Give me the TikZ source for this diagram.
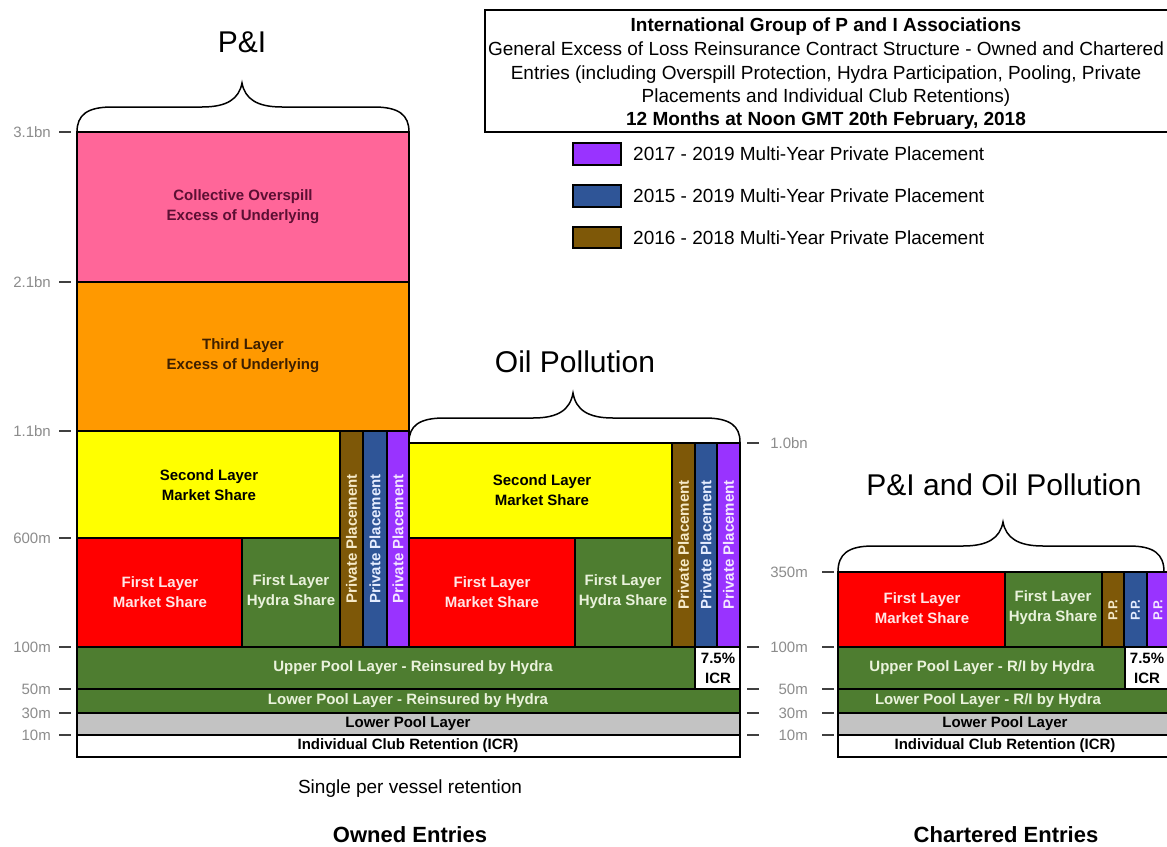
\documentclass[tikz,border=0pt]{standalone}
\usepackage{fontspec}
\setmainfont{Liberation Sans}
\definecolor{cpink}{HTML}{FF6699}
\definecolor{corange}{HTML}{FF9900}
\definecolor{cyellow}{HTML}{FFFF00}
\definecolor{cred}{HTML}{FF0000}
\definecolor{cgreen}{HTML}{4E7D30}
\definecolor{cbrown}{HTML}{7E5808}
\definecolor{cblue}{HTML}{2F5597}
\definecolor{cpurple}{HTML}{9933FF}
\definecolor{cgrey}{HTML}{C3C3C3}
\definecolor{axgray}{HTML}{8C8C8C}
\definecolor{tickgray}{HTML}{404040}
\definecolor{tpink}{HTML}{5C0F33}
\definecolor{torange}{HTML}{3D1F00}
\definecolor{tred}{HTML}{FFE6E6}
\definecolor{tgreen}{HTML}{EAF2DC}
\definecolor{tbrown}{HTML}{F5E9C8}
\definecolor{tblue}{HTML}{E5ECFF}
\definecolor{tpurple}{HTML}{F3E5FF}
\newcommand\drawbrace[6]{%
  \draw[bracestyle] (#1,#4) .. controls (#1,{#5+8}) and ({#1+10},#5) .. ({#1+35},#5)
    -- ({#3-40},#5) .. controls ({#3-15},#5) and ({#3-3},{#5-8}) .. (#3,#6)
    .. controls ({#3+3},{#5-8}) and ({#3+15},#5) .. ({#3+40},#5)
    -- ({#2-35},#5) .. controls ({#2-10},#5) and (#2,{#5+8}) .. (#2,#4);}
\tikzset{
  layer/.style={draw=black, line width=1.3pt},
  lbl/.style={font=\fontsize{15}{20}\selectfont\bfseries, align=center, inner sep=0pt},
  pplbl/.style={font=\fontsize{15}{15}\selectfont\bfseries, rotate=90, inner sep=0pt},
  pslbl/.style={font=\fontsize{13}{13}\selectfont\bfseries, rotate=90, inner sep=0pt},
  axlbl/.style={font=\fontsize{15}{15}\selectfont, text=axgray, anchor=east, inner sep=0pt},
  tickmark/.style={draw=tickgray, line width=2pt},
  bracestyle/.style={draw=black, line width=1.5pt},
  bigtitle/.style={font=\fontsize{30}{30}\selectfont, inner sep=0pt},
  ttl/.style={font=\fontsize{19}{19}\selectfont, anchor=base, inner sep=0pt},
  legtxt/.style={font=\fontsize{19}{19}\selectfont, anchor=west, inner sep=0pt},
  swatch/.style={draw=black, line width=1.3pt},
}
\begin{document}
\begin{tikzpicture}[x=1pt,y=-1pt]
\useasboundingbox (0,0) rectangle (1167,846);
\fill[white] (0,0) rectangle (1167,846);

% ---------- Title box ----------
\draw[line width=1.5pt] (485,10) rectangle (1180,132);
\node[ttl, font=\fontsize{19}{19}\selectfont\bfseries] (t1) at (826,31) {International Group of P and I Associations};
\node[ttl] (t2) at (826,55) {General Excess of Loss Reinsurance Contract Structure - Owned and Chartered};
\node[ttl] (t3) at (826,79) {Entries (including Overspill Protection, Hydra Participation, Pooling, Private};
\node[ttl] (t4) at (826,102) {Placements and Individual Club Retentions)};
\node[ttl, font=\fontsize{19}{19}\selectfont\bfseries] (t5) at (826,125) {12 Months at Noon GMT 20th February, 2018};

% ---------- Legend ----------
\draw[swatch, fill=cpurple] (573,143) rectangle (621,165);
\node[legtxt] (lg1) at (633,154) {2017 - 2019 Multi-Year Private Placement};
\draw[swatch, fill=cblue] (573,185) rectangle (621,207);
\node[legtxt] (lg2) at (633,196) {2015 - 2019 Multi-Year Private Placement};
\draw[swatch, fill=cbrown] (573,227) rectangle (621,248);
\node[legtxt] (lg3) at (633,238) {2016 - 2018 Multi-Year Private Placement};

% ---------- Braces and headings ----------
\drawbrace{77}{409}{242}{132}{107}{83}
\node[bigtitle] (hpi) at (242,42) {P\&I};
\drawbrace{409}{740}{573}{442}{418}{393}
\node[bigtitle] (hoil) at (575,362) {Oil Pollution};
\drawbrace{838}{1164}{1003}{572}{546}{522}
\node[bigtitle] (hpo) at (1004,485) {P\&I and Oil Pollution};

% ---------- P&I column ----------
\draw[layer, fill=cpink] (77,132) rectangle (409,282);
\node[lbl, text=tpink] (co) at (243,207) {Collective Overspill\\Excess of Underlying};
\draw[layer, fill=corange] (77,282) rectangle (409,431);
\node[lbl, text=torange] (tl) at (243,356) {Third Layer\\Excess of Underlying};
\draw[layer, fill=cyellow] (77,431) rectangle (340,538);
\node[lbl, text=black] (sl1) at (209,485) {Second Layer\\Market Share};
\draw[layer, fill=cred] (77,538) rectangle (242,647);
\node[lbl, text=tred] (fm1) at (160,592) {First Layer\\Market Share};
\draw[layer, fill=cgreen] (242,538) rectangle (340,647);
\node[lbl, text=tgreen] (fh1) at (291,592) {First Layer\\Hydra Share};
\draw[layer, fill=cbrown] (340,431) rectangle (363,647);
\node[pplbl, text=tbrown] (pa1) at (351.5,539) {Private Placement};
\draw[layer, fill=cblue] (363,431) rectangle (387,647);
\node[pplbl, text=tblue] (pb1) at (375,539) {Private Placement};
\draw[layer, fill=cpurple] (387,431) rectangle (409,647);
\node[pplbl, text=tpurple] (pc1) at (398,539) {Private Placement};

% ---------- Oil Pollution column ----------
\draw[layer, fill=cyellow] (409,443) rectangle (672,538);
\node[lbl, text=black] (sl2) at (542,490) {Second Layer\\Market Share};
\draw[layer, fill=cred] (409,538) rectangle (575,647);
\node[lbl, text=tred] (fm2) at (492,592) {First Layer\\Market Share};
\draw[layer, fill=cgreen] (575,538) rectangle (672,647);
\node[lbl, text=tgreen] (fh2) at (623,592) {First Layer\\Hydra Share};
\draw[layer, fill=cbrown] (672,443) rectangle (695,647);
\node[pplbl, text=tbrown] (pa2) at (683.5,545) {Private Placement};
\draw[layer, fill=cblue] (695,443) rectangle (717,647);
\node[pplbl, text=tblue] (pb2) at (706,545) {Private Placement};
\draw[layer, fill=cpurple] (717,443) rectangle (740,647);
\node[pplbl, text=tpurple] (pc2) at (728.5,545) {Private Placement};

% ---------- Owned bottom layers ----------
\draw[layer, fill=cgreen] (77,647) rectangle (695,689);
\node[lbl, text=tgreen] (up1) at (413,668) {Upper Pool Layer - Reinsured by Hydra};
\draw[layer, fill=white] (695,647) rectangle (740,689);
\node[lbl, text=black] (icr1) at (718,668) {7.5\%\\ICR};
\draw[layer, fill=cgreen] (77,689) rectangle (740,713);
\node[lbl, text=tgreen] (lp1) at (408,701) {Lower Pool Layer - Reinsured by Hydra};
\draw[layer, fill=cgrey] (77,713) rectangle (740,735);
\node[lbl, text=black] (gp1) at (408,724) {Lower Pool Layer};
\draw[layer, fill=white] (77,735) rectangle (740,757);
\node[lbl, text=black] (ic1) at (408,746) {Individual Club Retention (ICR)};

% ---------- Chartered column ----------
\draw[layer, fill=cred] (838,572) rectangle (1005,647);
\node[lbl, text=tred] (fm3) at (922,608) {First Layer\\Market Share};
\draw[layer, fill=cgreen] (1005,572) rectangle (1102,647);
\node[lbl, text=tgreen] (fh3) at (1053,608) {First Layer\\Hydra Share};
\draw[layer, fill=cbrown] (1102,572) rectangle (1124,647);
\node[pslbl, text=tbrown] (pa3) at (1113,610) {P.P.};
\draw[layer, fill=cblue] (1124,572) rectangle (1147,647);
\node[pslbl, text=tblue] (pb3) at (1135.5,610) {P.P.};
\draw[layer, fill=cpurple] (1147,572) rectangle (1175,647);
\node[pslbl, text=tpurple] (pc3) at (1158,610) {P.P.};
\draw[layer, fill=cgreen] (838,647) rectangle (1125,689);
\node[lbl, text=tgreen] (up3) at (982,668) {Upper Pool Layer - R/I by Hydra};
\draw[layer, fill=white] (1125,647) rectangle (1175,689);
\node[lbl, text=black] (icr3) at (1147,668) {7.5\%\\ICR};
\draw[layer, fill=cgreen] (838,689) rectangle (1175,713);
\node[lbl, text=tgreen] (lp3) at (988,701) {Lower Pool Layer - R/I by Hydra};
\draw[layer, fill=cgrey] (838,713) rectangle (1175,735);
\node[lbl, text=black] (gp3) at (1005,724) {Lower Pool Layer};
\draw[layer, fill=white] (838,735) rectangle (1175,757);
\node[lbl, text=black] (ic3) at (1005,746) {Individual Club Retention (ICR)};

% ---------- Left axis ----------
\foreach \lab/\yy in {3.1bn/132, 2.1bn/282, 1.1bn/431, 600m/538, 100m/647, 50m/689, 30m/713, 10m/735}{
  \node[axlbl] at (51,\yy) {\lab};
  \draw[tickmark] (59,\yy) -- (71,\yy);
}
% ---------- Middle axis ----------
\foreach \lab/\yy in {1.0bn/443, 350m/572, 100m/647, 50m/689, 30m/713, 10m/735}{
  \node[axlbl] at (808,\yy) {\lab};
}
\foreach \yy in {443, 647, 689, 713, 735}{
  \draw[tickmark] (747,\yy) -- (759,\yy);
}
\foreach \yy in {572, 647, 689, 713, 735}{
  \draw[tickmark] (822,\yy) -- (834,\yy);
}

% ---------- Footer texts ----------
\node[font=\fontsize{19}{19}\selectfont, inner sep=0pt] (single) at (410,789) {Single per vessel retention};
\node[font=\fontsize{22}{22}\selectfont\bfseries, inner sep=0pt] (owned) at (410,835) {Owned Entries};
\node[font=\fontsize{22}{22}\selectfont\bfseries, inner sep=0pt] (chart) at (1006,835) {Chartered Entries};
\end{tikzpicture}
\end{document}
